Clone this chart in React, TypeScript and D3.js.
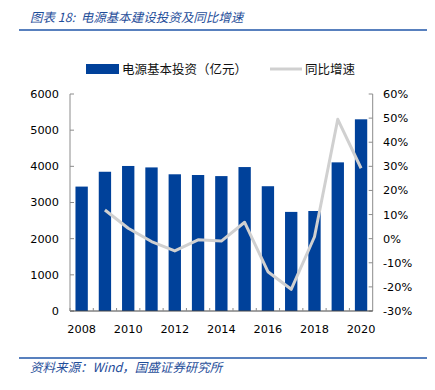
import React from "react";
import * as d3 from "d3";

const years = ["2008","2009","2010","2011","2012","2013","2014","2015","2016","2017","2018","2019","2020"];
const investment = [3440, 3850, 4010, 3970, 3780, 3760, 3730, 3980, 3450, 2740, 2765, 4110, 5300];
const growth: (number | null)[] = [null, 11.9, 4.3, -1.2, -5.1, -0.5, -1.0, 6.8, -13.7, -21.0, 0.8, 49.5, 29.2];
const leftTicks = [0, 1000, 2000, 3000, 4000, 5000, 6000];
const rightTicks = [-30, -20, -10, 0, 10, 20, 30, 40, 50, 60];
const xLabelYears = ["2008","2010","2012","2014","2016","2018","2020"];

const W = 435, H = 390;
const L = 70, R = 372.7, T = 94, B = 311;
const BLUE = "#00419A";
const GRAY = "#D0D0D0";
const AXIS = "#8C8C8C";
const TEXTBLUE = "#1F4E9A";
const tickFont = "DejaVu Sans, Verdana, sans-serif";
const cjkFont = "'Noto Sans CJK SC', sans-serif";

export default function App() {
  const x = d3.scaleBand<string>().domain(years).range([L, R]).paddingInner(0.47).paddingOuter(0.235);
  const xb = d3.scaleBand<string>().domain(years).range([L, R]);
  const yL = d3.scaleLinear().domain([0, 6000]).range([B, T]);
  const yR = d3.scaleLinear().domain([-30, 60]).range([B, T]);
  const line = d3.line<[string, number | null]>()
    .defined(d => d[1] !== null)
    .x(d => (xb(d[0]) as number) + xb.bandwidth() / 2)
    .y(d => yR(d[1] as number));
  const lineData = years.map((y, i) => [y, growth[i]] as [string, number | null]);

  return (
    <svg width={W} height={H} style={{ position: "absolute", left: 0, top: 0, background: "#fff" }}>
      {/* title */}
      <text x={30} y={22} fontFamily={cjkFont} fontSize={12.5} fontStyle="italic" fill={TEXTBLUE} style={{ whiteSpace: "pre" }}>
        图表 18:  电源基本建设投资及同比增速
      </text>
      <line x1={19} x2={427} y1={30} y2={30} stroke="#2056A8" strokeWidth={1.5} />

      {/* legend */}
      <rect x={86} y={64} width={33} height={10} fill={BLUE} />
      <text x={122} y={73.5} fontFamily={cjkFont} fontSize={12.5} fill="#111">电源基本投资（亿元）</text>
      <line x1={270} x2={302} y1={69} y2={69} stroke={GRAY} strokeWidth={3} />
      <text x={305} y={73.5} fontFamily={cjkFont} fontSize={12.5} fill="#111">同比增速</text>

      {/* bars */}
      {years.map((y, i) => (
        <rect key={y} x={x(y)} y={yL(investment[i])} width={x.bandwidth()} height={B - yL(investment[i])} fill={BLUE} />
      ))}

      {/* line */}
      <path d={line(lineData) || ""} fill="none" stroke={GRAY} strokeWidth={3} strokeLinejoin="round" />

      {/* left axis */}
      <line x1={L} x2={L} y1={T} y2={B} stroke={AXIS} strokeWidth={1} />
      {leftTicks.map(t => (
        <g key={t}>
          <line x1={L} x2={L + 4} y1={yL(t)} y2={yL(t)} stroke={AXIS} />
          <text x={59} y={yL(t)} dy="0.35em" textAnchor="end" fontFamily={tickFont} fontSize={11.3} fill="#000">{t}</text>
        </g>
      ))}

      {/* right axis */}
      <line x1={R} x2={R} y1={T} y2={B} stroke={AXIS} strokeWidth={1} />
      {rightTicks.map(t => (
        <g key={t}>
          <line x1={R - 4} x2={R} y1={yR(t)} y2={yR(t)} stroke={AXIS} />
          <text x={383} y={yR(t)} dy="0.35em" textAnchor="start" fontFamily={tickFont} fontSize={11.3} fill="#000">{t}%</text>
        </g>
      ))}

      {/* bottom axis */}
      <line x1={L} x2={R} y1={B} y2={B} stroke="#444" strokeWidth={1} />
      {years.map(y => (
        <line key={y} x1={xb(y) as number} x2={xb(y) as number} y1={B} y2={B - 3} stroke={AXIS} />
      ))}
      {xLabelYears.map(y => (
        <text key={y} x={(xb(y) as number) + xb.bandwidth() / 2} y={333} textAnchor="middle" fontFamily={tickFont} fontSize={11.3} fill="#000">{y}</text>
      ))}

      {/* footer */}
      <line x1={19} x2={427} y1={358} y2={358} stroke="#2056A8" strokeWidth={1.5} />
      <text x={30} y={372} fontFamily={cjkFont} fontSize={12.5} fontStyle="italic" fill={TEXTBLUE}>
        资料来源：Wind，国盛证券研究所
      </text>
    </svg>
  );
}
